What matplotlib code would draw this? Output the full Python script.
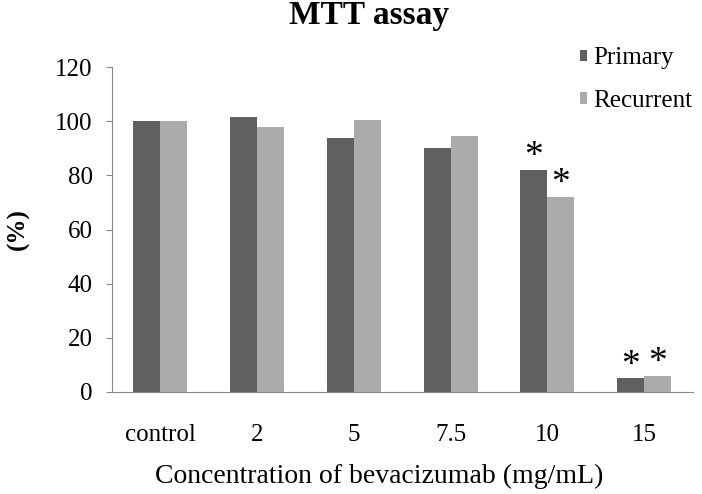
import matplotlib.pyplot as plt
import numpy as np

plt.rcParams['font.family'] = ['Liberation Serif', 'DejaVu Serif']

categories = ['control', '2', '5', '7.5', '10', '15']
primary = [100, 101.5, 94, 90, 82, 5]
recurrent = [100, 98, 100.5, 94.5, 72, 6]
primary_star = [False, False, False, False, True, True]
recurrent_star = [False, False, False, False, True, True]

fig = plt.figure(figsize=(7.02, 4.94), dpi=100)
ax = fig.add_axes([0.1595, 0.2065, 0.827, 0.6575])

x = np.arange(len(categories))
w = 0.28
b1 = ax.bar(x - w / 2, primary, w, color='#606060', label='Primary')
b2 = ax.bar(x + w / 2, recurrent, w, color='#ababab', label='Recurrent')

for bars, stars in ((b1, primary_star), (b2, recurrent_star)):
    for rect, s in zip(bars, stars):
        if s:
            ax.annotate('*', (rect.get_x() + rect.get_width() / 2, rect.get_height()),
                        xytext=(0, -3), textcoords='offset points',
                        ha='center', va='bottom', fontsize=27)

ax.set_xlim(-0.5, len(categories) - 0.5)
ax.set_ylim(0, 120)
ax.set_yticks(range(0, 121, 20))
ax.set_xticks(x)
ax.set_xticklabels(categories)
ax.tick_params(axis='y', labelsize=18, length=4, color='#888888', pad=10)
ax.tick_params(axis='x', labelsize=18, length=0, pad=23)

for side in ('top', 'right'):
    ax.spines[side].set_visible(False)
for side in ('left', 'bottom'):
    ax.spines[side].set_color('#888888')

ax.set_xlabel('Concentration of bevacizumab (mg/mL)', fontsize=20, va='center')
ax.xaxis.set_label_coords(0.46, -0.26)
ax.set_ylabel('(%)', fontsize=18, fontweight='bold', va='center')
ax.yaxis.set_label_coords(-0.162, 0.502)
fig.text(0.526, 0.968, 'MTT assay', fontsize=24, fontweight='bold',
         ha='center', va='center')

fig.legend(loc='upper left', bbox_to_anchor=(0.826, 0.904), frameon=False,
           fontsize=18, handlelength=0.3, handleheight=0.35, handletextpad=0.25,
           labelspacing=0.82, borderpad=0, borderaxespad=0)

fig.savefig('out.png', dpi=100)
